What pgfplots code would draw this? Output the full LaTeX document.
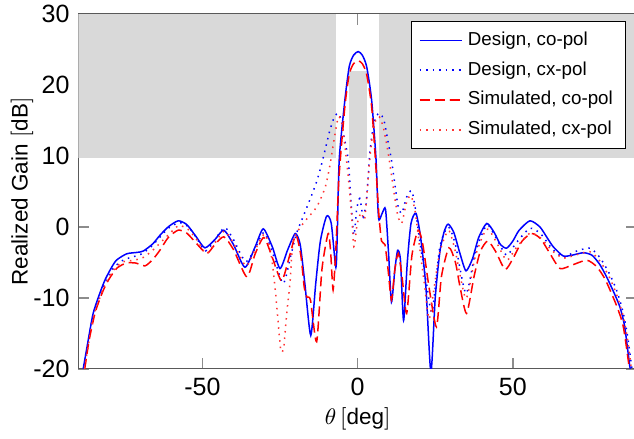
\documentclass[border=0pt]{standalone}
\usepackage{fontspec}
\setmainfont{Liberation Sans}
\usepackage{pgfplots}
\pgfplotsset{compat=1.18}
\begin{document}
\begin{tikzpicture}
\begin{axis}[
  scale only axis,
  width=223.5pt, height=141.9pt,
  xmin=-90, xmax=90, ymin=-20, ymax=30,
  xtick={-50,0,50}, ytick={-20,-10,0,10,20,30},
  /pgf/number format/assume math mode=true,
  tick label style={font=\fontsize{10}{12}\selectfont},
  label style={font=\fontsize{9}{11}\selectfont},
  xlabel={$\theta\,[\mathrm{deg}]$},
  ylabel={Realized Gain $[\mathrm{dB}]$},
  ylabel style={at={(axis description cs:-0.1007,0.5)}, anchor=center},
  xlabel style={yshift=2pt},
  axis line style={black!65},
  tick style={black!45, semithick},
  major tick length=4.3pt,
  legend style={font=\fontsize{7.5}{9}\selectfont, draw=black, fill=white, at={(0.98,0.98)}, anchor=north east, row sep=1.0pt},
  legend cell align=left,
  every axis plot/.append style={line width=0.6pt},
]
\addplot[fill=gray!30, draw=none, forget plot] coordinates {(-90,9.7) (-7,9.7) (-7,30) (-90,30)} -- cycle;
\addplot[fill=gray!30, draw=none, forget plot] coordinates {(7,9.7) (90,9.7) (90,30) (7,30)} -- cycle;
\addplot[fill=gray!30, draw=none, forget plot] coordinates {(-2.7,9.7) (3,9.7) (3,22) (-2.7,22)} -- cycle;

% Design co-pol
\addplot[blue, solid, smooth, tension=0.4] coordinates {
(-88.4,-20) (-87,-16.5) (-85.2,-12.2) (-83,-9.3) (-81.4,-7.5) (-79.5,-5.9) (-77.7,-4.7)
(-74.4,-3.8) (-71,-3.6) (-69,-3.4) (-66,-2.4) (-63.7,-1.2) (-61,0.0) (-57.8,0.85)
(-55,0.3) (-52,-1.4) (-49.2,-2.96) (-46,-1.8) (-43.1,-0.47) (-40,-2.5) (-36.3,-5.7)
(-33,-2.8) (-30.4,-0.28) (-27.5,-2.8) (-25.0,-5.87) (-22.5,-3.2) (-20.1,-0.94)
(-18.5,-2.5) (-17,-8) (-15.1,-15.3) (-13.5,-8) (-12,-2) (-10.0,1.5) (-8.5,0.5)
(-7.0,-5.7) (-6.5,0) (-5.9,9.7) (-4.1,17.9) (-2.7,22.6) (-1.3,24.2) (0.2,24.7)
(1.5,24.2) (2.9,22.6) (4.5,17.9) (5.9,9.7) (6.5,3) (6.9,0.95) (8.0,2.0) (9.0,2.45)
(10,-4) (10.9,-10.6) (12,-6) (12.9,-3.3) (13.8,-4.7) (14.8,-13.2) (16,-5) (17.2,0.5)
(18.8,1.9) (20.3,-1.5) (22,-8.5) (23.6,-20.5) (25,-10) (26.5,-3.5) (28,-0.5) (29.2,0.38)
(31,-0.8) (33,-3.8) (34.9,-6.2) (37,-4.5) (39,-1.5) (41.6,0.48) (44,-0.8) (46,-2.5)
(48.0,-3.0) (50,-2.0) (52,-0.5) (55.5,0.85) (58.7,0.0) (61,-1.5) (63,-2.8) (66.2,-4.1)
(69,-4.0) (72.7,-3.65) (75.5,-4.0) (78,-5.3) (80.2,-7.05) (82.5,-9.2) (84.5,-11.3)
(86,-14) (87.7,-19.7) (88.3,-21)
};
\addlegendentry{Design, co-pol}

% Design cx-pol
\addplot[blue, dotted, smooth, tension=0.4] coordinates {
(-88.2,-20) (-86.5,-15.5) (-85,-12) (-82,-8.5) (-79,-6) (-76,-4.8) (-73,-4.3) (-70,-3.9)
(-67,-3) (-64,-1.6) (-61,-0.2) (-57.5,0.6) (-54.5,0.0) (-52,-1.5) (-49,-3.4) (-46,-1.8)
(-42.8,-0.1) (-40,-1.8) (-36.1,-4.9) (-33,-3.0) (-30.2,-0.8) (-27.5,-3.5) (-24.0,-8.0)
(-21.5,-4) (-19.7,-0.94) (-17.5,1.5) (-15.4,3.8) (-13.5,6) (-12.1,8.0) (-10.5,10.8)
(-9,13.5) (-7.5,15.5) (-6.2,16.0) (-5.3,15) (-4.6,13.2) (-3.0,9.4) (-2.2,4) (-1.2,-1.17)
(-0.3,2.5) (0.7,4.0) (1.8,1.4) (2.8,3.5) (3.4,7) (4.0,10.8) (5,14) (6,15.6) (7.2,16.0)
(8.5,15) (9.8,12) (10.9,9.4) (12,6) (13,3) (14.2,1.9) (15.8,4.2) (17.4,5.1) (18.6,2.6)
(20,-2) (22.2,-8.0) (24,-12) (26.5,-2.8) (29.2,0.0) (31.5,-2.5) (34.9,-9.4) (38,-3.5)
(41.6,0.25) (44.5,-1.5) (48,-4.0) (51,-2.3) (55.5,-0.2) (59,-1.0) (62.5,-3.0) (66.2,-4.3)
(70,-3.5) (74.8,-3.0) (78,-4.3) (81,-6.5) (83.4,-8.9) (85.5,-12) (87,-15.5) (88.5,-20.5)
};
\addlegendentry{Design, cx-pol}

% Simulated co-pol
\addplot[red, dash pattern=on 4pt off 2pt, smooth, tension=0.4] coordinates {
(-87.9,-20) (-86.5,-16) (-84.5,-12) (-82,-9) (-80,-7.3) (-77.5,-5.8) (-74.5,-5.1)
(-71.5,-5.1) (-68.5,-5.5) (-66,-4.6) (-63.7,-3.3) (-61,-1.5) (-57.8,-0.47) (-55,-0.9)
(-52,-2.3) (-48.6,-3.75) (-46,-2.5) (-43.1,-1.4) (-40,-3.2) (-35.7,-7.05) (-33,-3.8)
(-30.2,-1.5) (-27.5,-4.3) (-24.5,-7.6) (-22,-4.2) (-19.9,-1.17) (-18.3,-4) (-17.2,-8.5)
(-16.3,-9.9) (-15.2,-10.3) (-13.2,-16.2) (-11.5,-6) (-9.5,-0.94) (-8.7,-3.5) (-7.9,-8.9)
(-7,-3) (-6,7) (-4.1,17) (-2.7,21.5) (-1.3,23.0) (0.2,23.4) (1.5,23.0) (2.9,21.5)
(4.5,17) (5.8,9) (6.8,2) (7.7,-2.0) (8.8,-2.5) (9.8,-6) (10.9,-10.3) (12,-6) (13.1,-3.75)
(14.3,-7) (15.8,-12.2) (17.5,-4) (19.5,-0.47) (21,-2.5) (23,-8.5) (25.4,-14.1) (27,-7)
(29.4,-2.96) (31.5,-5) (33,-8.5) (35.1,-12.2) (37.5,-7) (39.5,-3.5) (41.9,-2.0)
(44.5,-3.5) (47.5,-6.0) (50,-4.5) (53,-2.0) (56.1,-0.94) (59,-1.7) (62,-3.8) (65.2,-5.87)
(69,-5.4) (73.8,-4.7) (77,-5.6) (79.5,-7.2) (81.3,-8.9) (83.5,-11.2) (85.6,-14.1)
(87.7,-20.5)
};
\addlegendentry{Simulated, co-pol}

% Simulated cx-pol
\addplot[red!80, dotted, smooth, tension=0.4] coordinates {
(-88,-20) (-86.5,-16) (-85,-12.5) (-82,-8.8) (-79,-6.3) (-76,-5.0) (-72,-4.7) (-69,-4.3)
(-66,-3.3) (-63,-2) (-60,-0.7) (-57.5,0.2) (-54.5,-0.4) (-51.5,-2) (-48.8,-3.8) (-46,-2.3)
(-43,-0.6) (-40,-2.3) (-36,-5.5) (-33,-3.2) (-30,-1.0) (-28,-3.5) (-26.5,-9) (-25.5,-14)
(-24.7,-17.5) (-23.8,-17) (-22.8,-12) (-21.8,-8.0) (-20.7,-1.9) (-17.5,0.5) (-13.2,2.8)
(-10.5,5.5) (-9,8.5) (-7.5,12.5) (-6.2,15.5) (-5,14.5) (-4,11) (-3,7) (-2,2) (-1.2,-2.8)
(-0.3,0) (0.2,1.0) (1.2,2.0) (2.2,1.0) (2.9,4) (3.6,8) (4.5,12) (5.8,15.0) (7,15.5)
(8.3,14) (9.8,10.5) (11,7) (12,4) (13,1.5) (14.2,0.5) (15.8,3.5) (17.2,4.4) (18.6,2)
(20,-3) (21.5,-8) (23,-13) (24.5,-9) (26.5,-3.5) (29.3,-0.5) (31.5,-3.5) (34.9,-10.1)
(38,-4) (41.6,-0.3) (44.5,-2) (48,-4.7) (51,-3) (55.5,-0.9) (59,-1.6) (62.5,-3.3)
(66.2,-4.4) (70,-4.0) (74.8,-3.5) (78,-4.8) (81,-7) (83.4,-9.5) (85.5,-12.5) (87,-16)
(88.3,-20.5)
};
\addlegendentry{Simulated, cx-pol}
\end{axis}
\pgfresetboundingbox
\path[use as bounding box] ([shift={(-31.3pt,-27.7pt)}]current axis.south west) rectangle ([shift={(-1.2pt,5.6pt)}]current axis.north east);
\end{tikzpicture}
\end{document}
